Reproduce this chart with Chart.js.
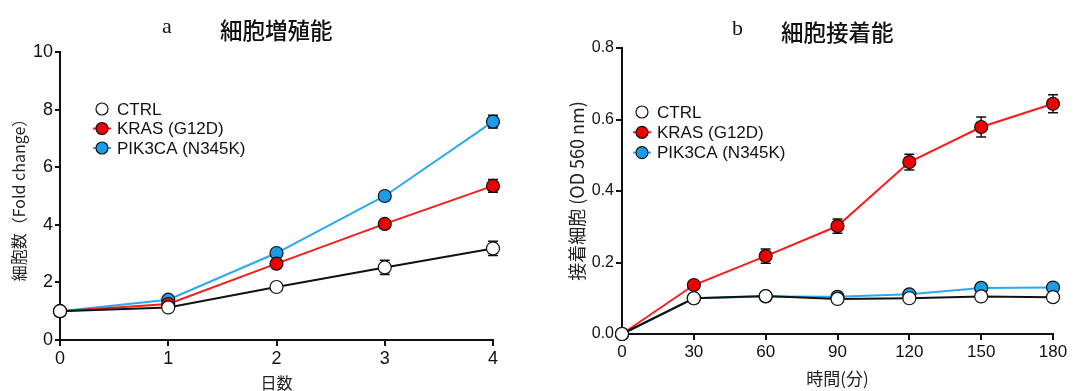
<!DOCTYPE html>
<html>
<head>
<meta charset="utf-8">
<script src="https://cdn.jsdelivr.net/npm/chart.js@4"></script>
<style>
  body { margin: 0; background: #fff; width: 1087px; height: 391px; overflow: hidden; position: relative; }
  .box { position: absolute; top: 0; }
  .ttl { position: absolute; font-family: "Noto Sans CJK JP", sans-serif; font-size: 22.5px; font-weight: 500; color: #111; white-space: nowrap; }
  .lt { position: absolute; font-family: "Liberation Serif", "DejaVu Serif", serif; font-size: 22px; color: #111; }
</style>
</head>
<body>
<div class="box" style="left:0;width:540px;height:391px">
  <canvas id="chartA" width="540" height="391"></canvas>
</div>
<div class="box" style="left:545px;width:542px;height:391px">
  <canvas id="chartB" width="542" height="391"></canvas>
</div>
<span class="lt" style="left:162px;top:13px">a</span>
<span class="ttl" style="left:220px;top:13px">細胞増殖能</span>
<span class="lt" style="left:732px;top:15px">b</span>
<span class="ttl" style="left:781px;top:15px">細胞接着能</span>
<script>
'use strict';
// ---- data ----
var seriesNames = ['CTRL', 'KRAS (G12D)', 'PIK3CA (N345K)'];

var days = [0, 1, 2, 3, 4];
var ctrlGrowth = [1, 1.13, 1.84, 2.52, 3.18];
var ctrlGrowthErr = [0.04, 0.06, 0.1, 0.25, 0.25];
var krasGrowth = [1, 1.25, 2.65, 4.03, 5.35];
var krasGrowthErr = [0.04, 0.08, 0.12, 0.12, 0.22];
var pikGrowth = [1, 1.4, 3.02, 5.0, 7.58];
var pikGrowthErr = [0.04, 0.08, 0.1, 0.1, 0.22];

var minutes = [0, 30, 60, 90, 120, 150, 180];
var ctrlAdh = [0, 0.1, 0.106, 0.098, 0.1, 0.105, 0.103];
var ctrlAdhErr = [0, 0.006, 0.006, 0.006, 0.006, 0.006, 0.006];
var krasAdh = [0, 0.137, 0.218, 0.302, 0.481, 0.579, 0.644];
var krasAdhErr = [0, 0.008, 0.02, 0.02, 0.022, 0.028, 0.025];
var pikAdh = [0, 0.1, 0.105, 0.104, 0.111, 0.129, 0.13];
var pikAdhErr = [0, 0.006, 0.006, 0.006, 0.006, 0.006, 0.006];

var lineColors = ['#111111', '#ff1a1a', '#2aa8f2'];
var fillColors = ['#ffffff', '#ee0000', '#1a9ce8'];

var latin = '"Liberation Sans", Arial, sans-serif';
var cjkFont = '"Noto Sans CJK JP", "Liberation Sans", sans-serif';

function toXY(xs, ys) {
    return xs.map(function (x, i) { return { x: x, y: ys[i] }; });
}

function makeSets(xs, vals, errs) {
    return vals.map(function (v, k) {
        return {
            label: seriesNames[k],
            data: toXY(xs, v),
            errors: errs[k],
            borderColor: lineColors[k],
            backgroundColor: fillColors[k],
            borderWidth: 2,
            pointRadius: 6.5,
            pointBorderColor: '#111',
            pointBorderWidth: 1.2,
            pointBackgroundColor: fillColors[k],
            tension: 0,
            clip: false
        };
    });
}

// error bars, drawn under the markers
var errorBars = {
    id: 'errorBars',
    beforeDatasetsDraw: function (chart) {
        var ctx = chart.ctx;
        var ys = chart.scales.y;
        ctx.save();
        ctx.strokeStyle = '#111';
        ctx.lineWidth = 1.5;
        chart.data.datasets.forEach(function (ds, k) {
            var meta = chart.getDatasetMeta(k);
            ds.data.forEach(function (p, i) {
                var e = ds.errors[i];
                if (!e) return;
                var px = meta.data[i].x;
                var top = ys.getPixelForValue(p.y + e);
                var bot = ys.getPixelForValue(p.y - e);
                ctx.beginPath();
                ctx.moveTo(px, top); ctx.lineTo(px, bot);
                ctx.moveTo(px - 5, top); ctx.lineTo(px + 5, top);
                ctx.moveTo(px - 5, bot); ctx.lineTo(px + 5, bot);
                ctx.stroke();
            });
        });
        ctx.restore();
    }
};

// legend inside the plot area
var innerLegend = {
    id: 'innerLegend',
    afterDraw: function (chart) {
        var o = chart.options.plugins.innerLegend;
        var ctx = chart.ctx;
        var a = chart.chartArea;
        ctx.save();
        ctx.font = '17px ' + latin;
        ctx.textBaseline = 'middle';
        chart.data.datasets.forEach(function (ds, k) {
            var x = a.left + o.dx;
            var y = a.top + o.dy + k * o.gap;
            if (k > 0) {
                ctx.strokeStyle = ds.borderColor;
                ctx.lineWidth = 2;
                ctx.beginPath(); ctx.moveTo(x - 9, y); ctx.lineTo(x + 9, y); ctx.stroke();
            }
            ctx.beginPath();
            ctx.arc(x, y, 6, 0, Math.PI * 2);
            ctx.fillStyle = ds.pointBackgroundColor;
            ctx.fill();
            ctx.strokeStyle = '#111';
            ctx.lineWidth = 1.2;
            ctx.stroke();
            ctx.fillStyle = '#111';
            ctx.fillText(ds.label, x + 15, y + 1);
        });
        ctx.restore();
    }
};

function axisOpts(o) {
    return {
        type: 'linear',
        min: o.min,
        max: o.max,
        ticks: {
            stepSize: o.step,
            color: '#111',
            font: { family: latin, size: o.tickSize },
            padding: 2,
            callback: o.fmt
        },
        grid: { drawOnChartArea: false, drawTicks: true, tickLength: o.tickLen, color: '#111', lineWidth: 2 },
        border: { color: '#111', width: 2 },
        title: {
            display: true, text: o.title, color: '#222',
            font: { family: cjkFont, size: o.titleSize, lineHeight: 1 },
            padding: o.titlePad
        },
        afterFit: function (s) {
            if (o.isX) s.height = o.box; else s.width = o.box;
        }
    };
}

new Chart(document.getElementById('chartA'), {
    type: 'line',
    data: { datasets: makeSets(days, [ctrlGrowth, krasGrowth, pikGrowth], [ctrlGrowthErr, krasGrowthErr, pikGrowthErr]) },
    options: {
        responsive: false,
        animation: false,
        layout: { padding: { top: 52, right: 47, left: 0, bottom: 0 } },
        scales: {
            x: axisOpts({ min: 0, max: 4, step: 1, isX: true, box: 51, tickSize: 18, tickLen: 6,
                title: '日数', titleSize: 16, titlePad: { top: 0, bottom: 0 }, fmt: function (v) { return v; } }),
            y: axisOpts({ min: 0, max: 10, step: 2, isX: false, box: 60, tickSize: 18, tickLen: 5,
                title: '細胞数（Fold change）', titleSize: 16, titlePad: { top: 11, bottom: 0 }, fmt: function (v) { return v; } })
        },
        plugins: {
            legend: { display: false },
            tooltip: { enabled: false },
            innerLegend: { dx: 42, dy: 57, gap: 19.5 }
        }
    },
    plugins: [errorBars, innerLegend]
});

new Chart(document.getElementById('chartB'), {
    type: 'line',
    data: { datasets: makeSets(minutes, [ctrlAdh, krasAdh, pikAdh], [ctrlAdhErr, krasAdhErr, pikAdhErr]) },
    options: {
        responsive: false,
        animation: false,
        layout: { padding: { top: 48, right: 34, left: 0, bottom: 0 } },
        scales: {
            x: axisOpts({ min: 0, max: 180, step: 30, isX: true, box: 57, tickSize: 17, tickLen: 6,
                title: '時間(分)', titleSize: 17, titlePad: { top: 0, bottom: 4 }, fmt: function (v) { return v; } }),
            y: axisOpts({ min: 0, max: 0.8, step: 0.2, isX: false, box: 77, tickSize: 16, tickLen: 6,
                title: '接着細胞 (OD 560 nm)', titleSize: 18, titlePad: { top: 23, bottom: 0 }, fmt: function (v) { return v.toFixed(1); } })
        },
        plugins: {
            legend: { display: false },
            tooltip: { enabled: false },
            innerLegend: { dx: 20, dy: 64, gap: 20.3 }
        }
    },
    plugins: [errorBars, innerLegend]
});
</script>
</body>
</html>
